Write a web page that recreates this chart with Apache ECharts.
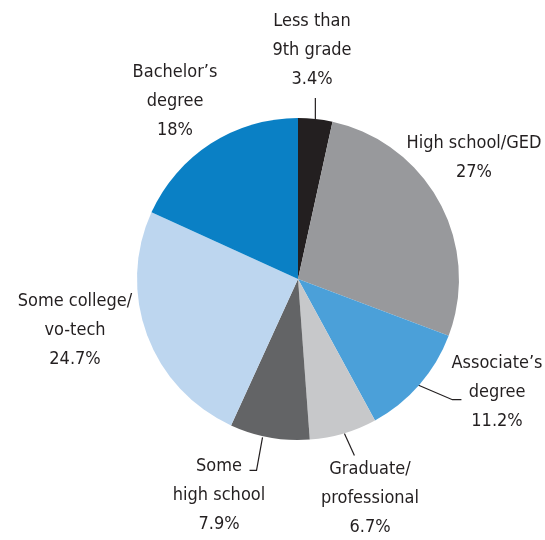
<!DOCTYPE html>
<html>
<head>
<meta charset="utf-8">
<script src="https://cdn.jsdelivr.net/npm/echarts@6/dist/echarts.min.js"></script>
<style>
  html, body { margin: 0; padding: 0; background: #fff; }
  #main { width: 545px; height: 540px; }
</style>
</head>
<body>
<div id="main"></div>
<script>
const categories = [
  'Less than\n9th grade',
  'High school/GED',
  'Associate\u2019s\ndegree',
  'Graduate/\nprofessional',
  'Some\nhigh school',
  'Some college/\nvo-tech',
  'Bachelor\u2019s\ndegree'
];
const shares = [3.4, 27, 11.2, 6.7, 7.9, 24.7, 18];
const colors = ['#231f20', '#98999c', '#4ba0d9', '#c7c8ca', '#636466', '#bdd6ef', '#0a80c5'];

// label centres and leader-line offsets from the arc anchor (layout only)
const labelPos = [
  [312, 50], [474, 158], [497, 392], [370, 498], [219, 495], [75, 330], [175, 101]
];
const leaders = [
  [[0, 0], [0, -21]],
  null,
  [[-2, 0], [33, 15], [42, 15]],
  [[1, 0], [11, 22]],
  [[-7, 0], [-13, 33], [-20, 33]],
  null,
  null
];

const chartDom = document.getElementById('main');
const myChart = echarts.init(chartDom);

const option = {
  animation: false,
  series: [
    {
      type: 'pie',
      center: [298, 279],
      radius: 161,
      startAngle: 90,
      clockwise: true,
      avoidLabelOverlap: false,
      label: {
        show: true,
        position: 'outside',
        formatter: '{b}\n{c}%',
        fontWeight: 'normal condensed',
        fontFamily: '"DejaVu Sans Condensed", "DejaVu Sans"',
        fontSize: 18,
        lineHeight: 29,
        color: '#231f20',
        align: 'center'
      },
      labelLine: {
        lineStyle: { color: '#231f20', width: 1.2 },
        length: 12,
        length2: 8
      },
      labelLayout: function (params) {
        const i = params.dataIndex;
        const p = labelPos[i];
        const out = { x: p[0], y: p[1], align: 'center', verticalAlign: 'middle' };
        const lead = leaders[i];
        if (lead && params.labelLinePoints) {
          const a = params.labelLinePoints[0];
          out.labelLinePoints = lead.map(d => [a[0] + d[0], a[1] + d[1]]);
        }
        return out;
      },
      emphasis: { disabled: true },
      data: categories.map((name, i) => ({
        name: name,
        value: shares[i],
        itemStyle: { color: colors[i] },
        labelLine: { show: leaders[i] !== null }
      }))
    }
  ]
};

myChart.setOption(option);
</script>
</body>
</html>
